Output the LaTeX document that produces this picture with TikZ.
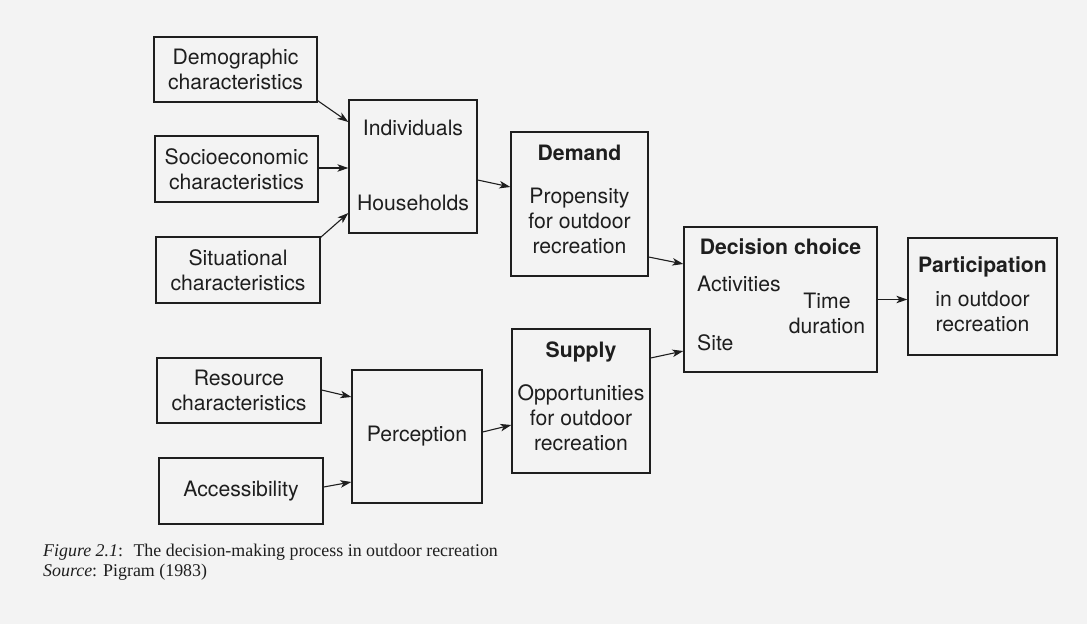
\documentclass[tikz,border=0pt]{standalone}
\usepackage{fontspec}
\setmainfont{TeX Gyre Heros}
\newfontfamily\capfont{Liberation Serif}
\usetikzlibrary{arrows.meta}
\definecolor{pagebg}{RGB}{243,243,243}
\definecolor{ink}{RGB}{30,30,30}
\tikzset{
  box/.style={draw=ink, line width=1.3pt, inner sep=0pt, align=center, text=ink},
  txt/.style={inner sep=0pt, align=center, text=ink},
  arr/.style={draw=ink, line width=1.1pt, -{Stealth[length=11pt,width=7.5pt,inset=3pt]}},
  captext/.style={inner sep=0pt, anchor=base west, text=ink, font=\capfont\fontsize{17.9}{20}\selectfont}
}
\begin{document}
\begin{tikzpicture}[x=1pt,y=-1pt,font=\fontsize{21.2}{25}\selectfont]
\fill[pagebg] (0,0) rectangle (1087,624);
\useasboundingbox (0,0) rectangle (1087,624);
% left boxes
\node[box, minimum width=163pt, minimum height=65pt] (demo) at (235.5,69.5) {Demographic\\characteristics};
\node[box, minimum width=163pt, minimum height=66pt] (socio) at (236.5,169) {Socioeconomic\\characteristics};
\node[box, minimum width=164pt, minimum height=66pt] (situ) at (238,270) {Situational\\characteristics};
\node[box, minimum width=164pt, minimum height=65pt] (res) at (239,390.5) {Resource\\characteristics};
\node[box, minimum width=164pt, minimum height=66pt] (acc) at (241,491) {Accessibility};
% middle boxes
\node[box, minimum width=128pt, minimum height=133pt] (indiv) at (413,166.5) {};
\node[txt] (indivt) at (413,128) {Individuals};
\node[txt] (houset) at (413,203) {Households};
\node[box, minimum width=130pt, minimum height=133pt] (perc) at (417,436.5) {Perception};
% demand / supply
\node[box, minimum width=137pt, minimum height=144pt] (demand) at (579.5,204) {};
\node[txt, font=\fontsize{21.2}{25}\selectfont\bfseries] (demandt) at (579.5,153) {Demand};
\node[txt] (demandb) at (579.5,221) {Propensity\\for outdoor\\recreation};
\node[box, minimum width=138pt, minimum height=144pt] (supply) at (581,401) {};
\node[txt, font=\fontsize{21.2}{25}\selectfont\bfseries] (supplyt) at (581,352) {Supply};
\node[txt] (supplyb) at (581,417.5) {Opportunities\\for outdoor\\recreation};
% decision
\node[box, minimum width=193pt, minimum height=145pt] (decision) at (780.5,299.5) {};
\node[txt, font=\fontsize{21.2}{25}\selectfont\bfseries] (dect) at (780.5,247) {Decision choice};
\node[txt, anchor=west] (act) at (697,284) {Activities};
\node[txt, anchor=west] (site) at (697,343) {Site};
\node[txt] (time) at (827,313.5) {Time\\duration};
% participation
\node[box, minimum width=149pt, minimum height=117pt] (part) at (982.5,296.5) {};
\node[txt, font=\fontsize{21.2}{25}\selectfont\bfseries] (partt) at (982.5,267) {Participation};
\node[txt] (partb) at (982.5,311) {in outdoor\\recreation};
% arrows
\draw[arr] ([yshift=2pt]demo.south east) -- ([yshift=44.5pt]indiv.west);
\draw[arr] ([yshift=1pt]socio.east) -- ([yshift=1pt]socio.east -| indiv.west);
\draw[arr] ([yshift=-1pt]situ.north east) -- ([yshift=-46.5pt]indiv.west);
\draw[arr] ([yshift=-13.5pt]indiv.east) -- ([yshift=17pt]demand.west);
\draw[arr] ([yshift=0.5pt]res.east) -- ([yshift=39.5pt]perc.west);
\draw[arr] ([yshift=4pt]acc.east) -- ([yshift=-45.5pt]perc.west);
\draw[arr] ([yshift=4.5pt]perc.east) -- ([yshift=-24pt]supply.west);
\draw[arr] ([yshift=-53pt]demand.east) -- ([yshift=35.5pt]decision.west);
\draw[arr] ([yshift=43pt]supply.east) -- ([yshift=-51.5pt]decision.west);
\draw[arr] (decision.east) -- (decision.east -| part.west);
% caption
\node[captext] (cap1) at (43,556) {\textit{Figure 2.1}: \ The decision-making process in outdoor recreation};
\node[captext] (cap2) at (43,576) {\textit{Source}: Pigram (1983)};
\end{tikzpicture}
\end{document}
